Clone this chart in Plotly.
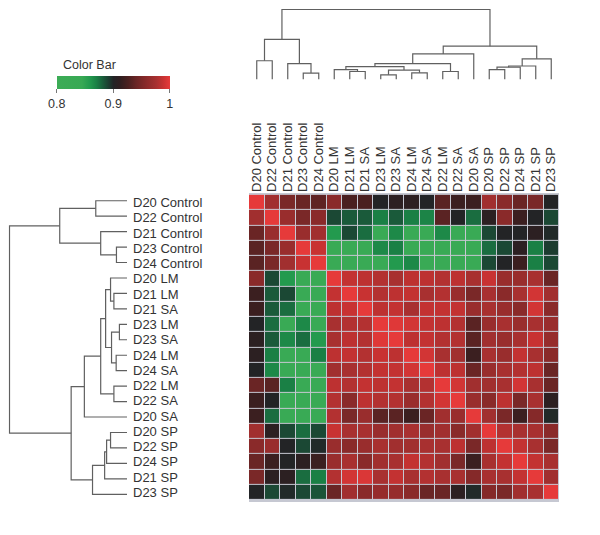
import plotly.graph_objects as go

# page body has an 8px margin, so the figure is sized to fit the 600x535 window
OFF = 8
W, H = 600 - OFF, 535 - OFF

labels = ["D20 Control", "D22 Control", "D21 Control", "D23 Control", "D24 Control",
          "D20 LM", "D21 LM", "D21 SA", "D23 LM", "D23 SA", "D24 LM", "D24 SA",
          "D22 LM", "D22 SA", "D20 SA", "D20 SP", "D22 SP", "D24 SP", "D21 SP", "D23 SP"]

corr = [
    [1.0, 0.972, 0.949, 0.94, 0.935, 0.958, 0.926, 0.926, 0.9, 0.908, 0.908, 0.9, 0.933, 0.918, 0.918, 0.972, 0.958, 0.94, 0.949, 0.9],
    [0.972, 1.0, 0.967, 0.949, 0.958, 0.888, 0.882, 0.882, 0.87, 0.882, 0.87, 0.868, 0.933, 0.9, 0.876, 0.908, 0.958, 0.918, 0.9, 0.888],
    [0.94, 0.967, 1.0, 0.967, 0.972, 0.858, 0.888, 0.876, 0.83, 0.866, 0.83, 0.83, 0.866, 0.83, 0.83, 0.888, 0.9, 0.9, 0.908, 0.898],
    [0.933, 0.949, 0.967, 1.0, 0.988, 0.83, 0.83, 0.83, 0.866, 0.87, 0.83, 0.83, 0.83, 0.83, 0.83, 0.876, 0.888, 0.908, 0.87, 0.892],
    [0.933, 0.949, 0.972, 0.988, 1.0, 0.83, 0.83, 0.83, 0.83, 0.858, 0.866, 0.83, 0.83, 0.83, 0.83, 0.888, 0.9, 0.918, 0.87, 0.888],
    [0.958, 0.888, 0.858, 0.83, 0.83, 1.0, 0.986, 0.984, 0.98, 0.976, 0.984, 0.984, 0.98, 0.984, 0.976, 0.988, 0.967, 0.967, 0.976, 0.94],
    [0.918, 0.882, 0.888, 0.83, 0.83, 0.986, 1.0, 0.988, 0.98, 0.984, 0.986, 0.976, 0.98, 0.967, 0.949, 0.976, 0.958, 0.976, 0.992, 0.972],
    [0.918, 0.882, 0.876, 0.83, 0.83, 0.984, 0.988, 1.0, 0.984, 0.986, 0.976, 0.986, 0.986, 0.986, 0.967, 0.976, 0.967, 0.958, 0.992, 0.958],
    [0.9, 0.876, 0.83, 0.866, 0.83, 0.976, 0.98, 0.98, 1.0, 0.997, 0.992, 0.986, 0.984, 0.98, 0.933, 0.967, 0.976, 0.967, 0.976, 0.967],
    [0.908, 0.882, 0.866, 0.876, 0.858, 0.976, 0.984, 0.98, 0.997, 1.0, 0.984, 0.986, 0.98, 0.98, 0.933, 0.972, 0.967, 0.976, 0.988, 0.965],
    [0.908, 0.87, 0.83, 0.83, 0.87, 0.984, 0.986, 0.98, 0.988, 0.984, 1.0, 0.992, 0.976, 0.972, 0.918, 0.976, 0.967, 0.986, 0.976, 0.958],
    [0.9, 0.866, 0.83, 0.83, 0.83, 0.972, 0.976, 0.98, 0.986, 0.986, 0.992, 1.0, 0.984, 0.984, 0.94, 0.967, 0.976, 0.98, 0.984, 0.94],
    [0.94, 0.933, 0.87, 0.83, 0.83, 0.984, 0.98, 0.986, 0.984, 0.986, 0.976, 0.98, 1.0, 0.992, 0.972, 0.972, 0.976, 0.992, 0.976, 0.94],
    [0.918, 0.9, 0.83, 0.83, 0.83, 0.98, 0.958, 0.984, 0.98, 0.98, 0.967, 0.98, 0.992, 1.0, 0.967, 0.958, 0.984, 0.949, 0.976, 0.908],
    [0.918, 0.876, 0.83, 0.83, 0.83, 0.98, 0.949, 0.967, 0.933, 0.933, 0.918, 0.94, 0.972, 0.967, 1.0, 0.972, 0.949, 0.918, 0.955, 0.898],
    [0.972, 0.908, 0.888, 0.876, 0.888, 0.988, 0.976, 0.976, 0.967, 0.972, 0.976, 0.967, 0.972, 0.958, 0.972, 1.0, 0.98, 0.976, 0.976, 0.958],
    [0.958, 0.967, 0.9, 0.888, 0.898, 0.967, 0.958, 0.967, 0.976, 0.972, 0.972, 0.976, 0.976, 0.984, 0.949, 0.984, 1.0, 0.986, 0.976, 0.949],
    [0.94, 0.918, 0.9, 0.908, 0.918, 0.967, 0.976, 0.958, 0.972, 0.976, 0.986, 0.98, 0.972, 0.949, 0.918, 0.976, 0.986, 1.0, 0.986, 0.976],
    [0.949, 0.908, 0.908, 0.876, 0.87, 0.98, 0.992, 0.995, 0.976, 0.986, 0.976, 0.98, 0.976, 0.976, 0.955, 0.976, 0.976, 0.986, 1.0, 0.972],
    [0.9, 0.888, 0.898, 0.888, 0.884, 0.94, 0.972, 0.958, 0.965, 0.965, 0.958, 0.94, 0.94, 0.908, 0.898, 0.955, 0.949, 0.972, 0.976, 1.0],
]

# Hierarchical clustering merges (leaf ids 0..19 follow label order, new clusters 20..)
merge_left = [0, 3, 2, 20, 6, 5, 8, 10, 26, 25, 12, 29, 31, 15, 33, 34, 35, 32, 23]
merge_right = [1, 4, 21, 22, 7, 24, 9, 11, 27, 28, 13, 30, 14, 16, 17, 18, 19, 36, 37]
merge_height = [31.7, 10.7, 26.7, 68.3, 13.3, 16.7, 7.7, 11.0, 15.7, 21.7, 13.3, 26.7, 43.3,
                16.7, 20.7, 22.7, 35.0, 56.7, 119.3]

cb_title = "Color Bar"
cb_ticks = [0.8, 0.9, 1.0]
cb_ticktext = ["0.8", "0.9", "1"]

colorscale = [
    [0.00, "#3cac56"], [0.22, "#38a954"], [0.29, "#239a4e"], [0.35, "#1a8045"],
    [0.41, "#1a5a3a"], [0.46, "#1c3c30"], [0.50, "#232426"], [0.56, "#301e20"],
    [0.63, "#4a2020"], [0.70, "#6a2525"], [0.79, "#8a2a2a"], [0.88, "#a83030"],
    [0.94, "#c83232"], [1.00, "#e63a3a"],
]


def dendro_segments(n, lefts, rights, heights):
    pos = {i: float(i) for i in range(n)}
    hgt = {i: 0.0 for i in range(n)}
    P, Hh = [], []
    for k, (a, b, h) in enumerate(zip(lefts, rights, heights)):
        P += [pos[a], pos[a], pos[b], pos[b], None]
        Hh += [hgt[a], h, h, hgt[b], None]
        pos[n + k] = (pos[a] + pos[b]) / 2.0
        hgt[n + k] = h
    return P, Hh


P, Hd = dendro_segments(len(labels), merge_left, merge_right, merge_height)
hmax = max(merge_height)

FONT = "Liberation Sans, Arial, sans-serif"
TXT = "#333333"
LINE = "#606060"
FS = 13

# target pixel geometry (window coordinates)
hx0, hx1 = 249, 559
hy0, hy1 = 193, 502


def clamp(v):
    return min(1.0, max(0.0, v))


def px_x(p):
    return clamp((p - OFF) / W)


def px_y(p):
    return clamp(1 - (p - OFF) / H)


fig = go.Figure()

fig.add_trace(go.Heatmap(
    z=corr, x=labels, y=labels, zmin=0.8, zmax=1.0, colorscale=colorscale,
    xgap=1, ygap=1,
    colorbar=dict(
        orientation="h", x=px_x(56.7), xanchor="left", y=px_y(75.7), yanchor="top",
        len=113.3, lenmode="pixels", thickness=13, thicknessmode="pixels",
        xpad=0, ypad=0, outlinewidth=0,
        tickvals=cb_ticks, ticktext=cb_ticktext, ticks="outside", ticklen=4,
        tickcolor="#777777", tickfont=dict(family=FONT, size=12.5, color=TXT),
    ),
))

fig.add_trace(go.Scatter(x=P, y=Hd, mode="lines", xaxis="x2", yaxis="y2",
                         line=dict(color=LINE, width=1.2), hoverinfo="skip", showlegend=False))
fig.add_trace(go.Scatter(x=Hd, y=P, mode="lines", xaxis="x3", yaxis="y3",
                         line=dict(color=LINE, width=1.2), hoverinfo="skip", showlegend=False))

pad = 1.2
root_px = 9.5
s_top = (79.3 - root_px) / hmax
top_dom = [px_y(79.3 + pad * s_top), px_y(root_px - pad * s_top)]
s_left = (127 - root_px) / hmax
left_dom = [px_x(root_px - pad * s_left), px_x(127 + pad * s_left)]

annotations = [dict(x=px_x(61), xref="paper", xanchor="left", y=px_y(65), yref="paper",
                    yanchor="middle", text=cb_title, showarrow=False,
                    font=dict(family=FONT, size=12.5, color=TXT))]
for lab in labels:
    annotations.append(dict(x=px_x(131), xref="paper", xanchor="left", y=lab, yref="y",
                            text=lab, showarrow=False,
                            font=dict(family=FONT, size=FS, color=TXT)))

fig.update_layout(
    width=W, height=H, margin=dict(l=0, r=0, t=0, b=0),
    paper_bgcolor="white", plot_bgcolor="white",
    font=dict(family=FONT, color=TXT),
    xaxis=dict(domain=[px_x(hx0), px_x(hx1)], side="top", tickangle=-90, anchor="y",
               tickmode="array", tickvals=labels, ticktext=labels,
               showgrid=False, zeroline=False, ticks="", showline=False,
               tickfont=dict(family=FONT, size=FS, color=TXT), automargin=False),
    yaxis=dict(domain=[px_y(hy1), px_y(hy0)], autorange="reversed", anchor="x",
               showticklabels=False, showgrid=False, zeroline=False, ticks=""),
    xaxis2=dict(domain=[px_x(hx0), px_x(hx1)], range=[-0.5, 19.5], anchor="y2", visible=False),
    yaxis2=dict(domain=top_dom, range=[-pad, hmax + pad], anchor="x2", visible=False),
    xaxis3=dict(domain=left_dom, range=[hmax + pad, -pad], anchor="y3", visible=False),
    yaxis3=dict(domain=[px_y(hy1), px_y(hy0)], range=[19.5, -0.5], anchor="x3", visible=False),
    shapes=[dict(type="rect", xref="x domain", yref="y domain", x0=0, x1=1, y0=0, y1=1,
                 fillcolor="#c6c8d2", line=dict(width=0), layer="below")],
    annotations=annotations,
)

fig.write_html("out.html")
